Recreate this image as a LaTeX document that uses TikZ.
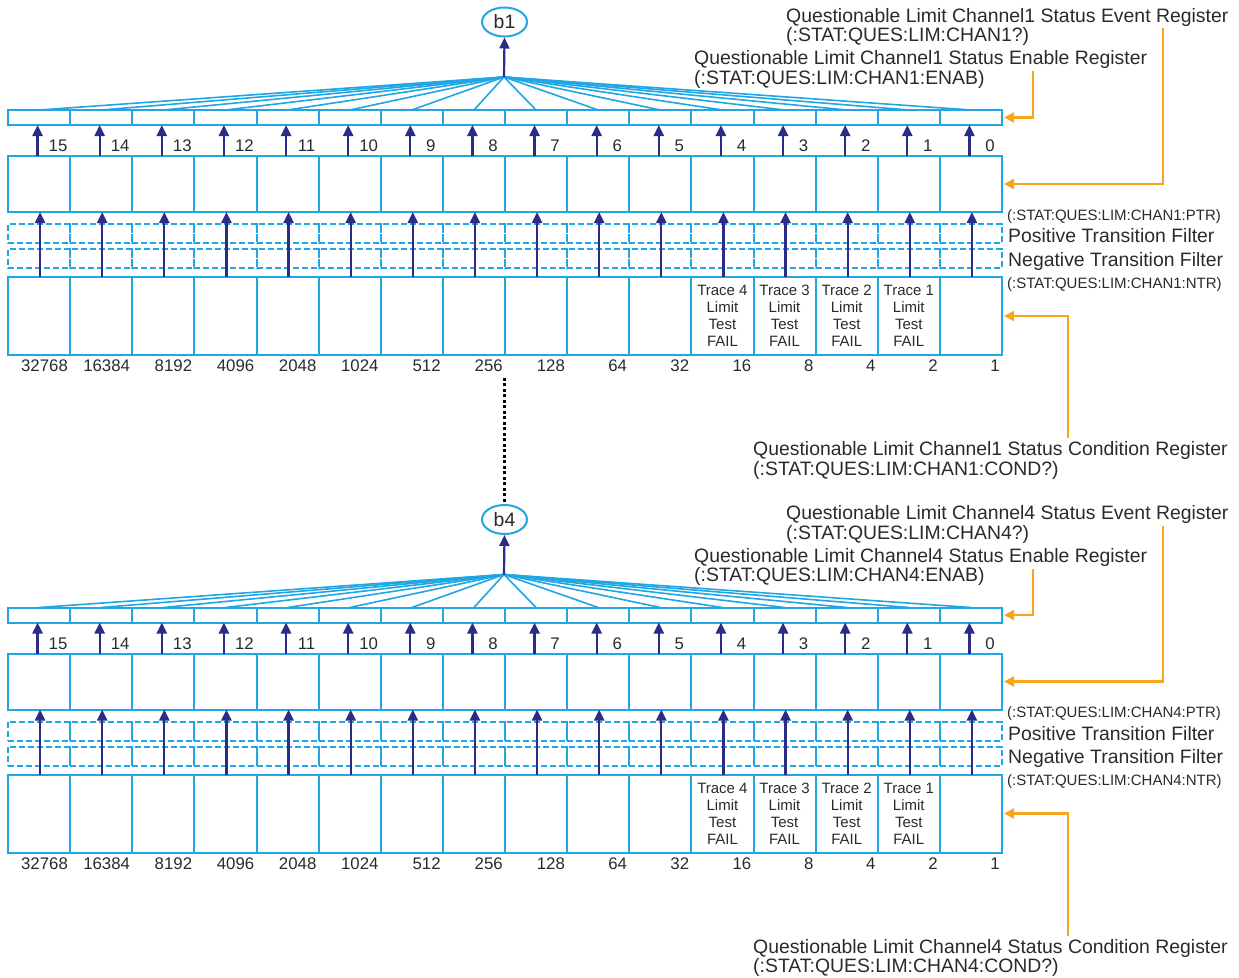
\documentclass[tikz,border=0pt]{standalone}
\usepackage{fontspec}
\setmainfont{Liberation Sans}
\usetikzlibrary{arrows.meta,shapes.geometric}
\definecolor{cy}{HTML}{1FA6E3}
\definecolor{nv}{HTML}{2B2C86}
\definecolor{og}{HTML}{F8A51D}
\definecolor{tx}{HTML}{2A2A2A}
\begin{document}
\begin{tikzpicture}[x=1pt,y=-1pt,
 reg/.style={draw=cy,line width=2pt,inner sep=0pt,outer sep=0pt,minimum width=62.125pt},
 filt/.style={reg,line width=2pt,dash pattern=on 6pt off 3pt},
 arr/.style={draw=nv,line width=2.2pt,-{Triangle[length=11pt,width=10pt]}},
 oarr/.style={draw=og,line width=2.2pt,-{Triangle[length=10pt,width=10pt]}},
 fan/.style={draw=cy,line width=1.6pt},
 lab/.style={font=\fontsize{19.4}{19.5}\selectfont,text=tx,inner sep=0pt,align=left,anchor=base west},
 slab/.style={font=\fontsize{15}{17}\selectfont,text=tx,inner sep=0pt,anchor=base west},
 num/.style={font=\fontsize{16.8}{18}\selectfont,text=tx,inner sep=0pt},
 cell/.style={font=\fontsize{15}{17}\selectfont,text=tx,align=center,inner sep=0pt},
 bub/.style={ellipse,draw=cy,line width=2pt,minimum width=45pt,minimum height=29pt,inner sep=0pt,font=\fontsize{19.4}{20}\selectfont,text=tx},
 dots/.style={draw=black,line width=2.2pt,dash pattern=on 3pt off 2.5pt}
]
\useasboundingbox (0,0) rectangle (1239,977);
\foreach \k/\dy in {1/0,4/497.5}{
\begin{scope}[yshift=-\dy pt]
 \foreach \i/\w in {0/1,1/2,2/4,3/8,4/16,5/32,6/64,7/128,8/256,9/512,10/1024,11/2048,12/4096,13/8192,14/16384,15/32768}{
   \pgfmathsetmacro\cx{39.0625+62.125*(15-\i)}
   \node[reg,minimum height=15pt] (en\k-\i) at (\cx,117.5) {};
   \node[reg,minimum height=56pt] (ev\k-\i) at (\cx,184) {};
   \node[filt,minimum height=19pt] (pt\k-\i) at (\cx,233.5) {};
   \node[filt,minimum height=19pt] (nt\k-\i) at (\cx,258.5) {};
   \node[reg,minimum height=78pt] (cd\k-\i) at (\cx,316) {};
   \node[num,anchor=base] (bl\k-\i) at (\cx+19,151.5) {\i};
   \node[num,anchor=base east] (w\k-\i) at (\cx+29,371.5) {\w};
   \draw[arr] ([xshift=-1.5pt]ev\k-\i.north) -- ([xshift=-1.5pt]en\k-\i.south);
   \draw[arr] ([xshift=1pt]cd\k-\i.north) -- ([xshift=1pt]ev\k-\i.south);
 }
 \foreach \t in {1,...,4}{
   \node[cell] (tr\k-\t) at (cd\k-\t) {Trace \t\\Limit\\Test\\FAIL};
 }
 \coordinate (apex\k) at (504,77);
 \foreach \i in {0,...,15}{
   \draw[fan] (apex\k) -- (en\k-\i.north);
 }
 \node[bub] (b\k) at (504.5,22) {b\k};
 \draw[arr] (apex\k) -- (b\k.south);
 \node[lab] (evl\k) at (786,41.5) {Questionable Limit Channel\k{} Status Event Register\\(:STAT:QUES:LIM:CHAN\k?)};
 \node[lab] (enl\k) at (694,84) {Questionable Limit Channel\k{} Status Enable Register\\(:STAT:QUES:LIM:CHAN\k:ENAB)};
 \node[lab] (cdl\k) at (753,475) {Questionable Limit Channel\k{} Status Condition Register\\(:STAT:QUES:LIM:CHAN\k:COND?)};
 \node[slab] (ptr\k) at (1007,220) {(:STAT:QUES:LIM:CHAN\k:PTR)};
 \node[lab] (pos\k) at (1008,242.5) {Positive Transition Filter};
 \node[lab] (neg\k) at (1008,266) {Negative Transition Filter};
 \node[slab] (ntr\k) at (1007,288) {(:STAT:QUES:LIM:CHAN\k:NTR)};
 \coordinate (evs\k) at (1163,28);
 \coordinate (ens\k) at (1033,71);
 \coordinate (cds\k) at (1068,438);
 \draw[oarr] (evs\k) |- ([xshift=2pt]ev\k-0.east);
 \draw[oarr] (ens\k) |- ([xshift=2pt]en\k-0.east);
 \draw[oarr] (cds\k) |- ([xshift=2pt]cd\k-0.east);
\end{scope}}
\draw[dots] ([yshift=-6pt]b4.north |- w1-8.south) -- (b4.north);
\end{tikzpicture}
\end{document}
